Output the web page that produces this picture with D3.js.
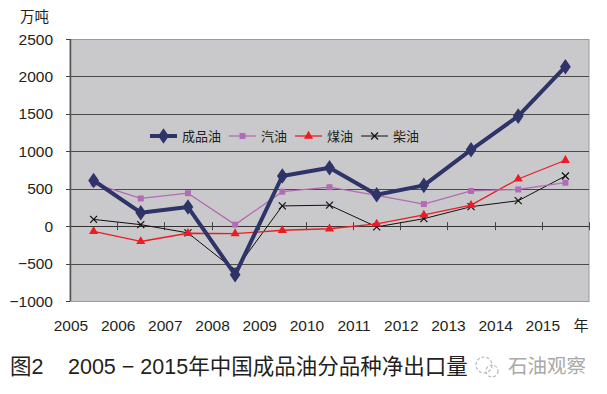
<html>
<head>
<meta charset="utf-8">
<script src="https://d3js.org/d3.v7.min.js"></script>
<style>
  body { margin: 0; background: #fff; }
  text { font-family: "Liberation Sans", Arial, "Noto Sans CJK SC", sans-serif; }
</style>
</head>
<body>
<svg width="607" height="394" id="chart"></svg>
<script>
// categories and series (万吨)
var years = ["2005", "2006", "2007", "2008", "2009", "2010", "2011", "2012", "2013", "2014", "2015"];
var chengpinyou = [610, 180, 255, -650, 670, 780, 420, 545, 1020, 1470, 2130];
var qiyou = [570, 370, 440, 20, 460, 520, 410, 295, 470, 490, 580];
var meiyou = [-70, -205, -95, -100, -55, -35, 30, 150, 280, 630, 880];
var chaiyou = [90, 20, -90, -590, 270, 280, -10, 100, 260, 340, 670];
var yTicks = [-1000, -500, 0, 500, 1000, 1500, 2000, 2500];

var series = [
  { name: "成品油", values: chengpinyou, color: "#2f3468", width: 4, marker: "diamond", size: 70 },
  { name: "汽油", values: qiyou, color: "#b36bb6", width: 1.3, marker: "square", size: 36 },
  { name: "煤油", values: meiyou, color: "#ec1c24", width: 1.3, marker: "triangle", size: 36 },
  { name: "柴油", values: chaiyou, color: "#111111", width: 1, marker: "cross", size: 7 }
];

var svg = d3.select("#chart");
var pl = 70, pr = 589, pt = 39, pb = 301;

var x = d3.scaleBand().domain(years).range([pl, pr]).padding(0);
var y = d3.scaleLinear().domain([-1000, 2500]).range([pb, pt]);
function cx(i) { return x(years[i]) + x.bandwidth() / 2; }

// plot background
svg.append("rect").attr("x", pl).attr("y", pt + 0.5)
  .attr("width", pr - pl).attr("height", pb - pt)
  .attr("fill", "#c9c9cb").attr("stroke", "#9a9a9a").attr("stroke-width", 1);

// gridlines
svg.selectAll(".grid").data(yTicks.filter(function(d){ return d > -1000 && d < 2500; }))
  .enter().append("line")
  .attr("x1", pl - 4).attr("x2", pr)
  .attr("y1", function(d){ return Math.round(y(d)) + 0.5; })
  .attr("y2", function(d){ return Math.round(y(d)) + 0.5; })
  .attr("stroke", function(d){ return d === 0 ? "#333" : "#4a4a4a"; })
  .attr("stroke-width", 1);

// left axis
svg.append("line").attr("x1", pl + 0.5).attr("x2", pl + 0.5)
  .attr("y1", pt).attr("y2", pb).attr("stroke", "#555").attr("stroke-width", 1.5);
svg.selectAll(".ytick").data(yTicks).enter().append("line")
  .attr("x1", pl - 4).attr("x2", pl)
  .attr("y1", function(d){ return Math.round(y(d)) + 0.5; })
  .attr("y2", function(d){ return Math.round(y(d)) + 0.5; })
  .attr("stroke", "#444");
svg.selectAll(".ylab").data(yTicks).enter().append("text")
  .attr("x", 53).attr("y", function(d){ return y(d) + 5.5; })
  .attr("text-anchor", "end").attr("font-size", 15.5).attr("fill", "#231f20")
  .text(function(d){ return d < 0 ? "\u2212" + Math.abs(d) : d; });

// category ticks on zero line
svg.selectAll(".xtick").data(years.slice(1).concat(["end"])).enter().append("line")
  .attr("x1", function(d, i){ return Math.round(pl + (i + 1) * x.bandwidth()) + 0.5; })
  .attr("x2", function(d, i){ return Math.round(pl + (i + 1) * x.bandwidth()) + 0.5; })
  .attr("y1", y(0) - 4).attr("y2", y(0) + 4)
  .attr("stroke", "#444");

// x labels at category boundaries
svg.selectAll(".xlab").data(years).enter().append("text")
  .attr("x", function(d){ return x(d) + 1; }).attr("y", 331)
  .attr("text-anchor", "middle").attr("font-size", 15.5).attr("fill", "#231f20")
  .text(function(d){ return d; });
svg.append("text").attr("x", 581).attr("y", 331).attr("text-anchor", "middle")
  .attr("font-size", 15).attr("fill", "#231f20").text("年");

// unit
svg.append("text").attr("x", 20).attr("y", 22).attr("font-size", 14.5)
  .attr("fill", "#231f20").text("万吨");

// markers
function drawMarker(g, s, px, py) {
  if (s.marker === "cross") {
    var r = s.size / 2;
    g.append("path").attr("d", "M" + (px - r) + "," + (py - r) + "L" + (px + r) + "," + (py + r) +
      "M" + (px - r) + "," + (py + r) + "L" + (px + r) + "," + (py - r))
      .attr("stroke", s.color).attr("stroke-width", 1.2).attr("fill", "none");
    return;
  }
  var type = { diamond: d3.symbolDiamond, square: d3.symbolSquare, triangle: d3.symbolTriangle }[s.marker];
  g.append("path").attr("d", d3.symbol().type(type).size(s.size)())
    .attr("transform", "translate(" + px + "," + py + ")" + (s.marker === "diamond" ? " scale(1.2,1)" : ""))
    .attr("fill", s.color);
}

var line = d3.line().x(function(d, i){ return cx(i); }).y(function(d){ return y(d); });

// draw back to front: 柴油, 煤油, 汽油, 成品油
series.slice().reverse().forEach(function(s) {
  var g = svg.append("g");
  g.append("path").attr("d", line(s.values))
    .attr("fill", "none").attr("stroke", s.color).attr("stroke-width", s.width)
    .attr("stroke-linejoin", "round");
  s.values.forEach(function(v, i){ drawMarker(g, s, cx(i), y(v)); });
});

// legend
var lg = svg.append("g");
var lx = 150, ly = 136;
series.forEach(function(s) {
  lg.append("line").attr("x1", lx).attr("x2", lx + 27).attr("y1", ly).attr("y2", ly)
    .attr("stroke", s.color).attr("stroke-width", s.width);
  drawMarker(lg, s, lx + 13.5, ly);
  var t = lg.append("text").attr("x", lx + 32).attr("y", ly + 5)
    .attr("font-size", 13).attr("fill", "#231f20").text(s.name);
  lx += 32 + t.node().getComputedTextLength() + 8;
});

// caption
svg.append("text").attr("x", 10).attr("y", 374).attr("font-size", 21.5)
  .attr("fill", "#231f20").text("图2");
svg.append("text").attr("x", 68).attr("y", 374).attr("font-size", 21.5)
  .attr("fill", "#231f20").text("2005 \u2212 2015年中国成品油分品种净出口量");

// watermark
var wm = svg.append("g").attr("fill", "none").attr("stroke", "#b8b8b8").attr("stroke-width", 1.2);
wm.append("circle").attr("cx", 484).attr("cy", 365).attr("r", 8).attr("stroke-dasharray", "3,2");
wm.append("circle").attr("cx", 492).attr("cy", 371).attr("r", 6).attr("stroke-dasharray", "3,2");
svg.append("text").attr("x", 508).attr("y", 373).attr("font-size", 19.5)
  .attr("fill", "#a8a8a8").text("石油观察");
</script>
</body>
</html>
